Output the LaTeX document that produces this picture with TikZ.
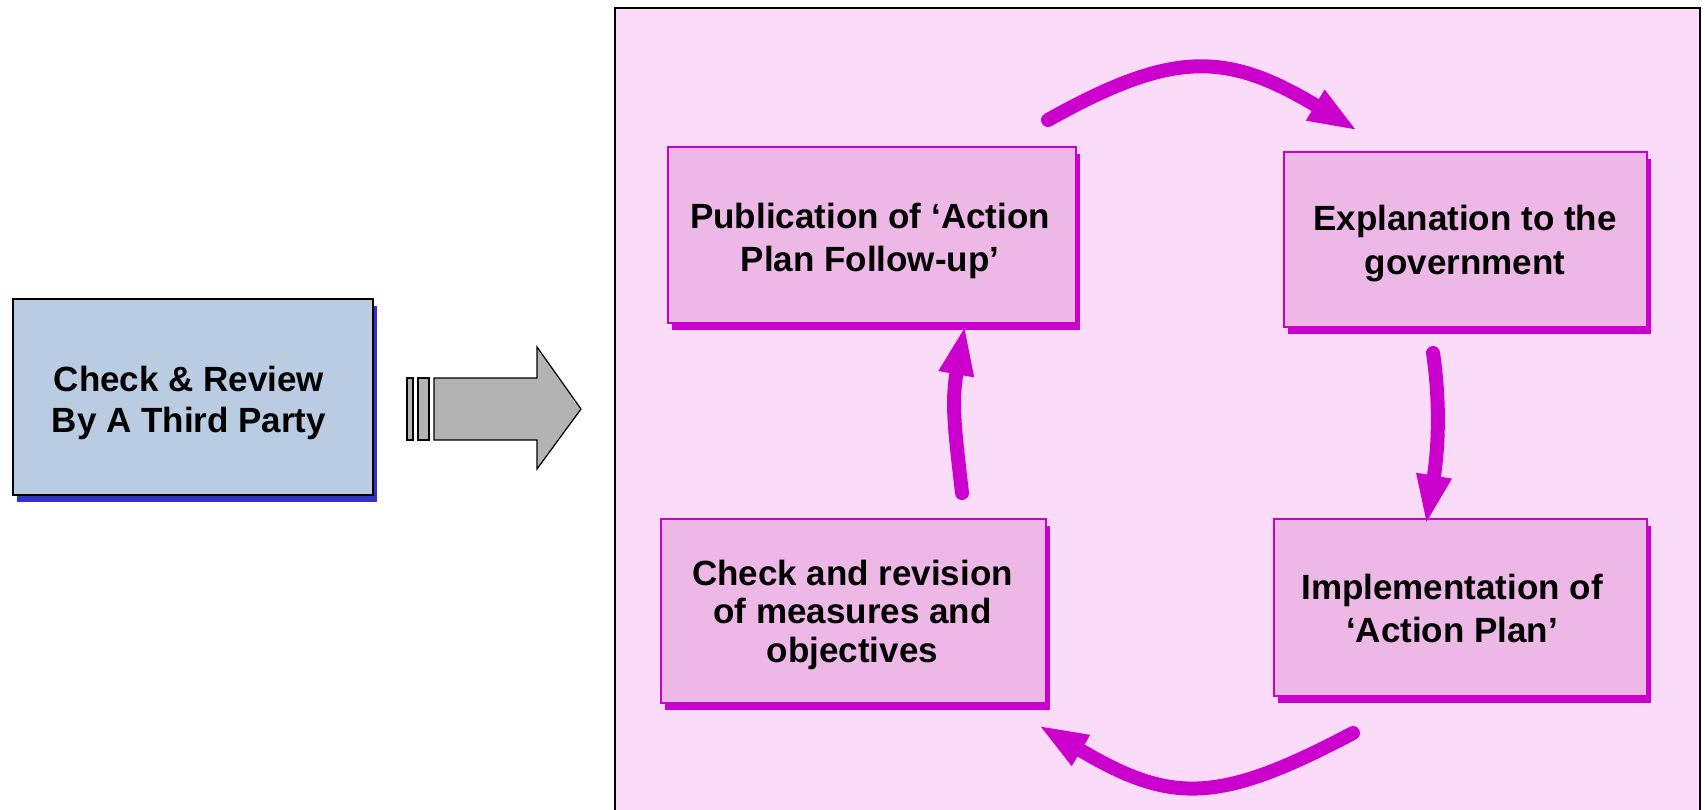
\documentclass[tikz,border=0pt]{standalone}
\usepackage{fontspec}
\setmainfont{Liberation Sans}
\usetikzlibrary{arrows.meta,shadows}
\definecolor{panelpink}{HTML}{FADCF8}
\definecolor{boxpink}{HTML}{EDB8E5}
\definecolor{mag}{HTML}{CC00CC}
\definecolor{steel}{HTML}{B9CCE1}
\definecolor{shblue}{HTML}{3333CC}
\definecolor{greyarrow}{HTML}{B3B3B3}
\begin{document}
\begin{tikzpicture}[x=1pt,y=-1pt,
  pinkbox/.style={rectangle,draw=mag,line width=1.5pt,fill=boxpink,inner sep=0pt,
     drop shadow={shadow xshift=4pt,shadow yshift=-7pt,fill=mag,opacity=1}},
  bluebox/.style={rectangle,draw=black,line width=1.5pt,fill=steel,inner sep=0pt,
     drop shadow={shadow xshift=4pt,shadow yshift=-7pt,fill=shblue,opacity=1}},
  boxtext/.style={font=\fontsize{35}{#1}\selectfont\bfseries,align=center,inner sep=0pt},
  cyc/.style={draw=mag,line width=14pt,line cap=round,-{Triangle[length=50pt,width=32pt]}},
  greyshape/.style={fill=greyarrow,draw=black,line width=1.2pt,line join=miter}
]
\useasboundingbox (0,0) rectangle (1705,810);
\fill[white] (0,0) rectangle (1705,810);
% panel
\draw[fill=panelpink,line width=1.5pt] (615,8) rectangle (1700,840);

% left box
\node[bluebox,minimum width=360pt,minimum height=196pt] (blue) at (193,397) {};
\node[boxtext=41] (blueT) at (189,402.5) {Check \& Review\\By A Third Party};

% grey arrow
\draw[greyshape] (407,378) rectangle (413,440);
\draw[greyshape] (418,378) rectangle (429,440);
\draw[greyshape] (434,378) -- (537,378) -- (537,347) -- (581,409) -- (537,469) -- (537,440) -- (434,440) -- cycle;

% pink boxes
\node[pinkbox,minimum width=408pt,minimum height=176pt] (pub) at (872,235) {};
\node[boxtext=43] (pubT) at (870,240.5) {Publication of ‘Action\\Plan Follow-up’};

\node[pinkbox,minimum width=363pt,minimum height=175pt] (expl) at (1465.5,239.5) {};
\node[boxtext=44] (explT) at (1465,244) {Explanation to the\\government};

\node[pinkbox,minimum width=385pt,minimum height=184pt] (chk) at (853.5,611) {};
\node[boxtext=38.5] (chkT) at (852.5,614.5) {Check and revision\\of measures and\\objectives};

\node[pinkbox,minimum width=373pt,minimum height=177pt] (impl) at (1460.5,607.5) {};
\node[boxtext=42.5] (implT) at (1452,608.5) {Implementation of\\‘Action Plan’};

% cycle arrows
\coordinate (a1s) at (1048,120);
\coordinate (a1e) at (1358,131);
\draw[cyc] (a1s) .. controls (1173,50) and (1226.6,51.5) .. (a1e);

\coordinate (a2s) at (1433,353);
\coordinate (a2e) at (1426,525);
\draw[cyc] (a2s) .. controls (1440,400) and (1438.8,446) .. (a2e);

\coordinate (a3s) at (1353,733);
\coordinate (a3e) at (1038,725);
\draw[cyc] (a3s) .. controls (1217,805) and (1170.4,803.5) .. (a3e);

\coordinate (a4s) at (962,493);
\coordinate (a4e) at (965,325);
\draw[cyc] (a4s) .. controls (955.2,433) and (951,403.8) .. (a4e);
\end{tikzpicture}
\end{document}
